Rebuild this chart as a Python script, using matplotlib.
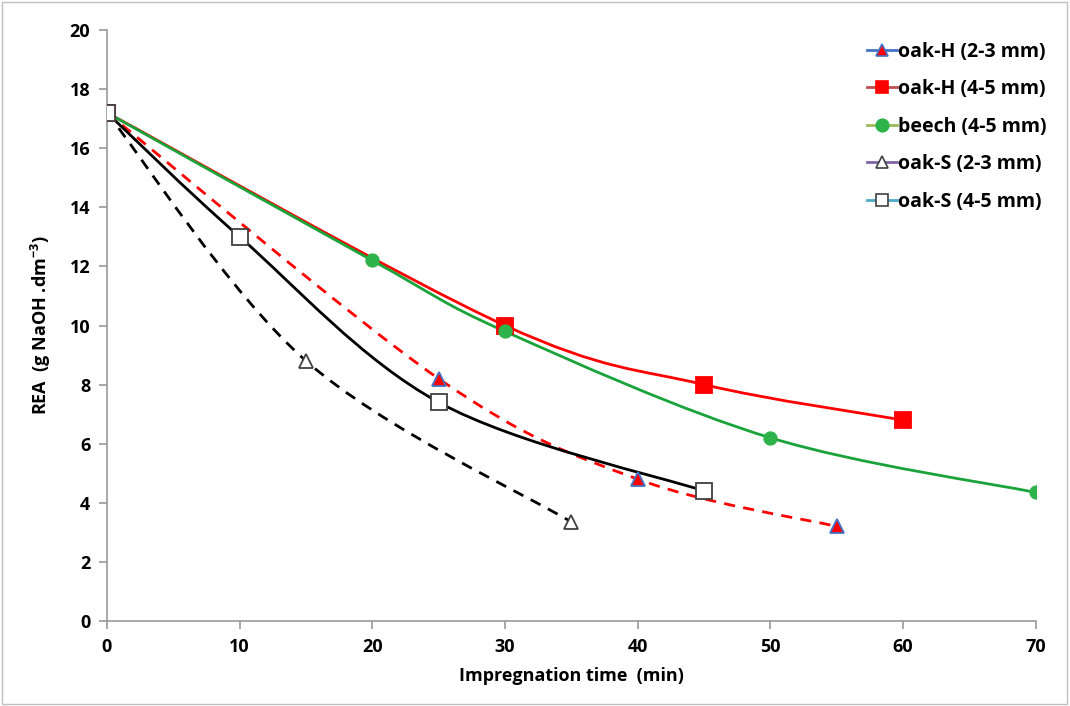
import numpy as np
import matplotlib
matplotlib.use("Agg")
import matplotlib.pyplot as plt
from matplotlib.path import Path
from matplotlib.patches import PathPatch, Rectangle
from matplotlib.lines import Line2D

# ---- data ----
t_ohH23 = [0, 25, 40, 55]
y_ohH23 = [17.2, 8.2, 4.8, 3.2]
t_ohH45 = [0, 30, 45, 60]
y_ohH45 = [17.2, 10.0, 8.0, 6.8]
t_beech = [0, 20, 30, 50, 70]
y_beech = [17.2, 12.2, 9.8, 6.2, 4.35]
t_ohS23 = [0, 15, 35]
y_ohS23 = [17.2, 8.8, 3.35]
t_ohS45 = [0, 10, 25, 45]
y_ohS45 = [17.2, 13.0, 7.4, 4.4]
labels = ["oak-H (2-3 mm)", "oak-H (4-5 mm)", "beech (4-5 mm)",
          "oak-S (2-3 mm)", "oak-S (4-5 mm)"]
xticks = [0, 10, 20, 30, 40, 50, 60, 70]
yticks = [0, 2, 4, 6, 8, 10, 12, 14, 16, 18, 20]

plt.rcParams['font.family'] = ['Open Sans', 'DejaVu Sans']
plt.rcParams['font.weight'] = 'bold'
plt.rcParams['mathtext.default'] = 'regular'

fig = plt.figure(figsize=(10.7, 7.06), dpi=100)
fig.patches.append(Rectangle((0.002, 0.003), 0.995, 0.994, transform=fig.transFigure,
                             fill=False, edgecolor='#bfbfbf', lw=1.0))
ax = fig.add_axes([0.1, 0.1204, 0.868, 0.8371])


def smooth_path(xs, ys, tension=1/6):
    xs = np.asarray(xs, float); ys = np.asarray(ys, float)
    n = len(xs)
    verts = [(xs[0], ys[0])]
    codes = [Path.MOVETO]
    for i in range(n - 1):
        p0 = np.array([xs[max(i - 1, 0)], ys[max(i - 1, 0)]])
        p1 = np.array([xs[i], ys[i]])
        p2 = np.array([xs[i + 1], ys[i + 1]])
        p3 = np.array([xs[min(i + 2, n - 1)], ys[min(i + 2, n - 1)]])
        c1 = p1 + (p2 - p0) * tension
        c2 = p2 - (p3 - p1) * tension
        verts += [tuple(c1), tuple(c2), tuple(p2)]
        codes += [Path.CURVE4] * 3
    return Path(verts, codes)


series = [
    (t_ohH23, y_ohH23, 'red', (0, (4, 3)), dict(marker='^', mfc='red', mec='#4472c4', ms=10), '#4472c4'),
    (t_ohH45, y_ohH45, 'red', '-', dict(marker='s', mfc='red', mec='red', ms=11), '#c0504d'),
    (t_beech, y_beech, '#1aa33a', '-', dict(marker='o', mfc='#2db34a', mec='#2db34a', ms=9), '#9bbb59'),
    (t_ohS23, y_ohS23, 'black', (0, (4, 3)), dict(marker='^', mfc='white', mec='#404040', ms=10), '#8064a2'),
    (t_ohS45, y_ohS45, 'black', '-', dict(marker='s', mfc='white', mec='#404040', ms=12), '#4bacc6'),
]

handles = []
for xs, ys, col, ls, mk, legcol in series:
    p = PathPatch(smooth_path(xs, ys), fill=False, edgecolor=col, lw=2.0, linestyle=ls, zorder=2)
    ax.add_patch(p)
for xs, ys, col, ls, mk, legcol in series:
    ax.plot(xs, ys, linestyle='none', zorder=3, mew=1.3, **mk)
for (xs, ys, col, ls, mk, legcol), lab in zip(series, labels):
    m = dict(mk)
    m['ms'] = 9
    handles.append(Line2D([], [], color=legcol, lw=2, mew=1.2, label=lab, **m))

ax.set_xlim(0, 70)
ax.set_ylim(0, 20)
ax.set_xticks(xticks)
ax.set_yticks(yticks)
for s in ['top', 'right']:
    ax.spines[s].set_visible(False)
for s in ['left', 'bottom']:
    ax.spines[s].set_color('#9a9a9a')
    ax.spines[s].set_linewidth(1.2)
ax.tick_params(direction='out', length=6, color='#9a9a9a', width=1.2, labelsize=13, pad=6)
for lab in ax.get_xticklabels() + ax.get_yticklabels():
    lab.set_fontweight('bold')
ax.set_xlabel('Impregnation time  (min)', fontsize=13, fontweight='bold', labelpad=8)
ax.set_ylabel('REA  (g NaOH .dm$^{-3}$)', fontsize=13, fontweight='bold', labelpad=12)

leg = ax.legend(handles=handles, loc='upper right', bbox_to_anchor=(1.03, 1.01),
                frameon=False, handlelength=1.5, handletextpad=0.05,
                labelspacing=0.9, prop={'weight': 'bold', 'size': 14})

fig.savefig('out.png', dpi=100)
